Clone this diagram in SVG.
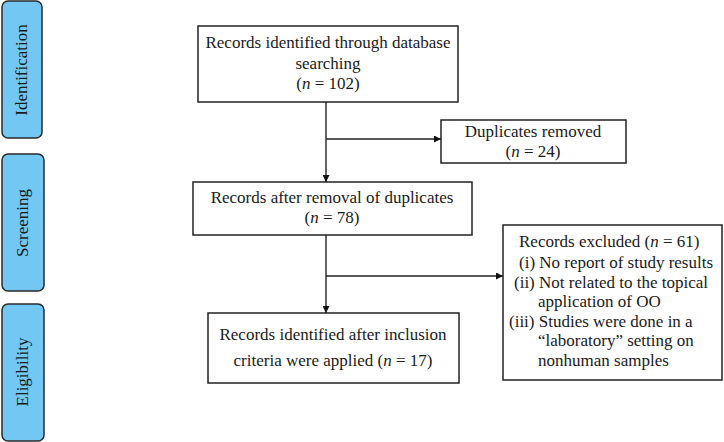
<svg xmlns="http://www.w3.org/2000/svg" width="724" height="442" viewBox="0 0 724 442">
<style>
.tab{fill:#72C8F2;stroke:#2a2a2a;stroke-width:1.5}
.box{fill:#fff;stroke:#222;stroke-width:1.5}
text{font-family:'Liberation Serif','Times New Roman','DejaVu Serif',serif;fill:#1a1a1a}
.t{font-size:17px}
.c{text-anchor:middle}
.tt{font-size:17px;text-anchor:middle}
.ln{stroke:#222;stroke-width:1.4;fill:none}
</style>
<defs>
<marker id="ah" viewBox="0 0 10 10" refX="10" refY="5" markerWidth="7" markerHeight="7" markerUnits="userSpaceOnUse" orient="auto">
<path d="M0,0 L10,5 L0,10 z" fill="#111"/>
</marker>
</defs>
<g id="tab-identification">
<rect class="tab" x="2" y="1" width="40" height="137" rx="6"/>
<text class="tt" transform="translate(27,70) rotate(-90)">Identification</text>
</g>
<g id="tab-screening">
<rect class="tab" x="2" y="154" width="42" height="137" rx="6"/>
<text class="tt" transform="translate(28,223) rotate(-90)">Screening</text>
</g>
<g id="tab-eligibility">
<rect class="tab" x="2" y="304" width="42" height="137" rx="6"/>
<text class="tt" transform="translate(28,372) rotate(-90)">Eligibility</text>
</g>
<g id="connectors">
<line class="ln" x1="326" y1="102" x2="326" y2="182" marker-end="url(#ah)"/>
<line class="ln" x1="326" y1="139" x2="441" y2="139" marker-end="url(#ah)"/>
<line class="ln" x1="326" y1="235" x2="326" y2="313" marker-end="url(#ah)"/>
<line class="ln" x1="326" y1="276" x2="503" y2="276" marker-end="url(#ah)"/>
</g>
<g id="node-identified">
<rect class="box" x="198" y="26" width="260" height="76"/>
<text class="t c" x="328" y="48">Records identified through database</text>
<text class="t c" x="328" y="69">searching</text>
<text class="t c" x="328" y="89">(<tspan font-style="italic">n</tspan> = 102)</text>
</g>
<g id="node-duplicates">
<rect class="box" x="441" y="120" width="185" height="43"/>
<text class="t c" x="533" y="137">Duplicates removed</text>
<text class="t c" x="533" y="157">(<tspan font-style="italic">n</tspan> = 24)</text>
</g>
<g id="node-after-removal">
<rect class="box" x="193" y="182" width="279" height="53"/>
<text class="t c" x="332" y="203">Records after removal of duplicates</text>
<text class="t c" x="332" y="223">(<tspan font-style="italic">n</tspan> = 78)</text>
</g>
<g id="node-included">
<rect class="box" x="208" y="313" width="251" height="70"/>
<text class="t c" x="333" y="340">Records identified after inclusion</text>
<text class="t c" x="333" y="366">criteria were applied (<tspan font-style="italic">n</tspan> = 17)</text>
</g>
<g id="node-excluded">
<rect class="box" x="503" y="225" width="219" height="155"/>
<text class="t" x="519" y="247">Records excluded (<tspan font-style="italic">n</tspan> = 61)</text>
<text class="t" x="519" y="268">(i) No report of study results</text>
<text class="t" x="514" y="288">(ii) Not related to the topical</text>
<text class="t" x="538" y="307">application of OO</text>
<text class="t" x="509" y="327">(iii) Studies were done in a</text>
<text class="t" x="538" y="346">“laboratory” setting on</text>
<text class="t" x="538" y="366">nonhuman samples</text>
</g>
</svg>
